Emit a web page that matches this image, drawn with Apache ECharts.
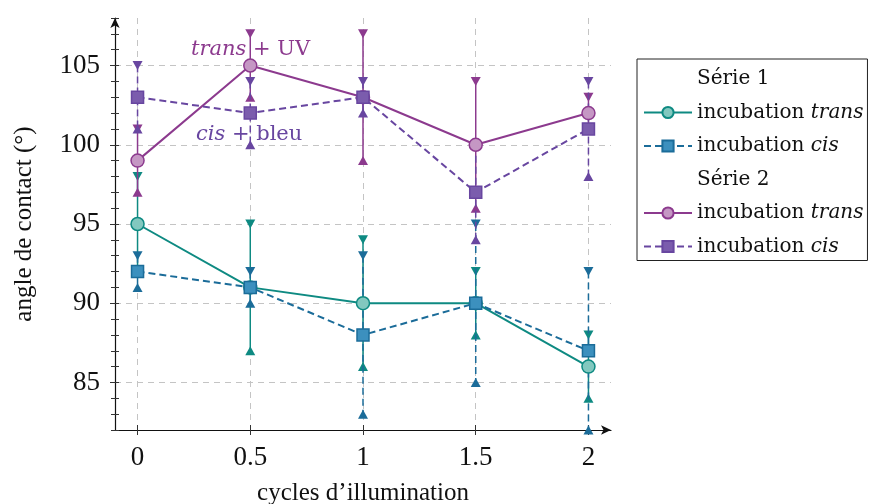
<!DOCTYPE html>
<html><head><meta charset="utf-8">
<script src="https://cdn.jsdelivr.net/npm/echarts@6/dist/echarts.min.js"></script>
<style>html,body{margin:0;padding:0;background:#fff}#c{width:870px;height:504px}</style>
</head><body><div id="c"></div>
<script>
const cycles = [0, 0.5, 1, 1.5, 2];
const s1Trans = [95, 91, 90, 90, 86];
const s1TransErr = [3, 4, 4, 2, 2];
const s1Cis = [92, 91, 88, 90, 87];
const s1CisErr = [1, 1, 5, 5, 5];
const s2Trans = [99, 105, 103, 100, 102];
const s2TransErr = [2, 2, 4, 4, 1];
const s2Cis = [103, 102, 103, 97, 101];
const s2CisErr = [2, 2, 1, 3, 3];
const xTicks = [0, 0.5, 1, 1.5, 2];
const yTicks = [85, 90, 95, 100, 105];

const C1T = '#0e8a82', F1T = '#82c8bf';
const C1C = '#1b6c99', F1C = '#3c90be';
const C2T = '#8c3a8e', F2T = '#c597c4';
const C2C = '#6846a0', F2C = '#7b5cad';

const serif = 'Liberation Serif';
const legendFont = 'DejaVu Serif';

function errRender(color, dashed) {
  return function (params, api) {
    const x = api.value(0), lo = api.value(1), hi = api.value(2);
    const p1 = api.coord([x, hi]), p2 = api.coord([x, lo]);
    const w = 5, h = 4.5;
    return {
      type: 'group',
      children: [
        { type: 'line', shape: { x1: p1[0], y1: p1[1], x2: p2[0], y2: p2[1] },
          style: { stroke: color, lineWidth: 1.5, lineDash: dashed ? [7, 4] : null } },
        { type: 'polygon', shape: { points: [[p1[0] - w, p1[1] - h], [p1[0] + w, p1[1] - h], [p1[0], p1[1] + h]] },
          style: { fill: color } },
        { type: 'polygon', shape: { points: [[p2[0] - w, p2[1] + h], [p2[0] + w, p2[1] + h], [p2[0], p2[1] - h]] },
          style: { fill: color } }
      ]
    };
  };
}
function errData(vals, errs) { return cycles.map((c, i) => [c, vals[i] - errs[i], vals[i] + errs[i]]); }
function ptData(vals) { return cycles.map((c, i) => [c, vals[i]]); }

function lineSeries(name, vals, color, fill, symbol, size, dashed) {
  return {
    type: 'line', name: name, data: ptData(vals), xAxisIndex: 0, yAxisIndex: 0,
    symbol: symbol, symbolSize: size, showAllSymbol: true, z: 3,
    lineStyle: { color: color, width: 2, type: dashed ? [7, 4] : 'solid' },
    itemStyle: { color: fill, borderColor: color, borderWidth: 1.5 },
    emphasis: { disabled: true }, animation: false
  };
}
function errSeries(name, vals, errs, color, dashed) {
  return {
    type: 'custom', name: name, data: errData(vals, errs), xAxisIndex: 0, yAxisIndex: 0,
    renderItem: errRender(color, dashed), encode: { x: 0, y: [1, 2] }, z: 2, animation: false, clip: false
  };
}

const chart = echarts.init(document.getElementById('c'));
const gridLine = { show: true, lineStyle: { color: '#c4c4c4', width: 1, type: [6, 5] } };
chart.setOption({
  animation: false,
  backgroundColor: '#fff',
  grid: { left: 115, right: 259, top: 18, bottom: 74, containLabel: false, outerBoundsMode: 'none' },
  xAxis: [
    { type: 'value', min: -0.1, max: 2.1, position: 'bottom',
      axisLine: { show: true, onZero: false, symbol: ['none', 'arrow'], symbolSize: [7, 10], lineStyle: { color: '#111', width: 1.2 } },
      axisTick: { show: true, customValues: xTicks, length: 5, lineStyle: { color: '#333' } },
      axisLabel: { customValues: xTicks, margin: 14, fontFamily: serif, fontSize: 27, color: '#111' },
      splitLine: gridLine,
      name: 'cycles d\u2019illumination', nameLocation: 'middle', nameGap: 51,
      nameTextStyle: { fontFamily: serif, fontSize: 25, color: '#111' } },
    { type: 'value', min: -0.1, max: 2.1, position: 'bottom',
      axisLine: { show: false, onZero: false },
      axisTick: { show: true, inside: true, customValues: xTicks, length: 5, lineStyle: { color: '#333' } },
      axisLabel: { show: false }, splitLine: { show: false } }
  ],
  yAxis: [
    { type: 'value', min: 82, max: 108, position: 'left',
      axisLine: { show: true, onZero: false, symbol: ['none', 'arrow'], symbolSize: [7, 10], lineStyle: { color: '#111', width: 1.2 } },
      axisTick: { show: true, customValues: yTicks, length: 5, lineStyle: { color: '#333' } },
      axisLabel: { customValues: yTicks, margin: 15, fontFamily: serif, fontSize: 27, color: '#111' },
      splitLine: gridLine,
      name: 'angle de contact (\u00b0)', nameLocation: 'middle', nameGap: 78, nameRotate: 90,
      nameTextStyle: { fontFamily: serif, fontSize: 25, color: '#111' } },
    { type: 'value', min: 82, max: 108, interval: 1, position: 'left',
      axisLine: { show: false, onZero: false },
      axisTick: { show: true, inside: true, length: 4, lineStyle: { color: '#333' } },
      axisLabel: { show: false }, splitLine: { show: false } },
    { type: 'value', min: 82, max: 108, interval: 1, position: 'left',
      axisLine: { show: false, onZero: false },
      axisTick: { show: true, inside: false, length: 4, lineStyle: { color: '#333' } },
      axisLabel: { show: false }, splitLine: { show: false } }
  ],
  legend: {
    orient: 'vertical', left: 637, top: 59,
    padding: [9, 4, 3, 6], borderColor: '#222', borderWidth: 1,
    itemWidth: 48, itemHeight: 14, itemGap: 11.5,
    selectedMode: false,
    textStyle: { fontFamily: legendFont, fontSize: 20, color: '#111', lineHeight: 22,
      rich: { i: { fontStyle: 'italic', fontFamily: legendFont, fontSize: 20, color: '#111', lineHeight: 22 } } },
    formatter: function (n) {
      if (n.indexOf('S\u00e9rie') === 0) return n;
      const m = n.match(/^incubation (\w+)/);
      return 'incubation {i|' + m[1] + '}';
    },
    data: [
      { name: 'S\u00e9rie 1', icon: 'none' }, 'incubation trans (1)', 'incubation cis (1)',
      { name: 'S\u00e9rie 2', icon: 'none' }, 'incubation trans (2)', 'incubation cis (2)'
    ]
  },
  graphic: [
    { type: 'text', left: 191, top: 39, z: 10,
      style: { text: '{i|trans} + UV', fill: C2T, font: '21px "DejaVu Serif"',
        rich: { i: { fontStyle: 'italic', fontFamily: legendFont, fontSize: 21, fill: C2T } } } },
    { type: 'text', left: 196, top: 124, z: 10,
      style: { text: '{i|cis} + bleu', fill: C2C, font: '21px "DejaVu Serif"',
        rich: { i: { fontStyle: 'italic', fontFamily: legendFont, fontSize: 21, fill: C2C } } } }
  ],
  series: [
    { type: 'line', name: 'S\u00e9rie 1', data: [] },
    { type: 'line', name: 'S\u00e9rie 2', data: [] },
    errSeries('e1t', s1Trans, s1TransErr, C1T, false),
    errSeries('e1c', s1Cis, s1CisErr, C1C, true),
    errSeries('e2t', s2Trans, s2TransErr, C2T, false),
    errSeries('e2c', s2Cis, s2CisErr, C2C, true),
    lineSeries('incubation trans (1)', s1Trans, C1T, F1T, 'circle', 13, false),
    lineSeries('incubation cis (1)', s1Cis, C1C, F1C, 'rect', 12, true),
    lineSeries('incubation trans (2)', s2Trans, C2T, F2T, 'circle', 13, false),
    lineSeries('incubation cis (2)', s2Cis, C2C, F2C, 'rect', 12, true)
  ]
});
</script>
</body></html>
